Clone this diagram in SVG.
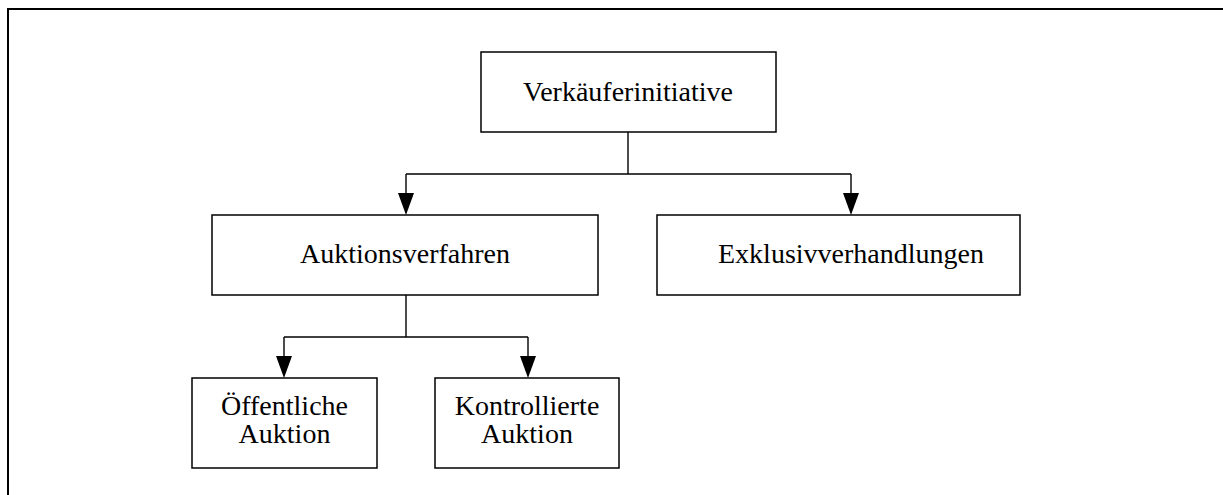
<svg xmlns="http://www.w3.org/2000/svg" width="1223" height="495" viewBox="0 0 1223 495">
<style>
  .box { fill: #fff; stroke: #000; stroke-width: 1.5; }
  .lbl { font-family: "Liberation Serif", "Times New Roman", serif; font-size: 28px; fill: #000; text-anchor: middle; }
  .con { fill: none; stroke: #000; stroke-width: 1.4; }
  .head { fill: #000; }
</style>
<path d="M8,500 V9 H1230" fill="none" stroke="#000" stroke-width="2"/>
<g id="connectors">
  <path class="con" d="M628,132 V174"/>
  <path class="con" d="M406,174 H851"/>
  <path class="con" d="M406,174 V193"/>
  <path class="head" d="M398,193 L414,193 L406,215 Z"/>
  <path class="con" d="M851,174 V193"/>
  <path class="head" d="M843,193 L859,193 L851,215 Z"/>
  <path class="con" d="M406,295 V337"/>
  <path class="con" d="M284,337 H528"/>
  <path class="con" d="M284,337 V356"/>
  <path class="head" d="M276,356 L292,356 L284,378 Z"/>
  <path class="con" d="M528,337 V356"/>
  <path class="head" d="M520,356 L536,356 L528,378 Z"/>
</g>
<g id="verkaeuferinitiative">
  <rect class="box" x="481" y="52" width="295" height="80"/>
  <text class="lbl" x="628" y="101">Verkäuferinitiative</text>
</g>
<g id="auktionsverfahren">
  <rect class="box" x="212" y="215" width="386" height="80"/>
  <text class="lbl" x="405" y="263">Auktionsverfahren</text>
</g>
<g id="exklusivverhandlungen">
  <rect class="box" x="657" y="215" width="363" height="80"/>
  <text class="lbl" x="851" y="263">Exklusivverhandlungen</text>
</g>
<g id="oeffentliche">
  <rect class="box" x="192" y="378" width="185" height="90"/>
  <text class="lbl" x="284.5" y="415">Öffentliche</text>
  <text class="lbl" x="284.5" y="443">Auktion</text>
</g>
<g id="kontrollierte">
  <rect class="box" x="435" y="378" width="184" height="90"/>
  <text class="lbl" x="527" y="415">Kontrollierte</text>
  <text class="lbl" x="527" y="443">Auktion</text>
</g>
</svg>
